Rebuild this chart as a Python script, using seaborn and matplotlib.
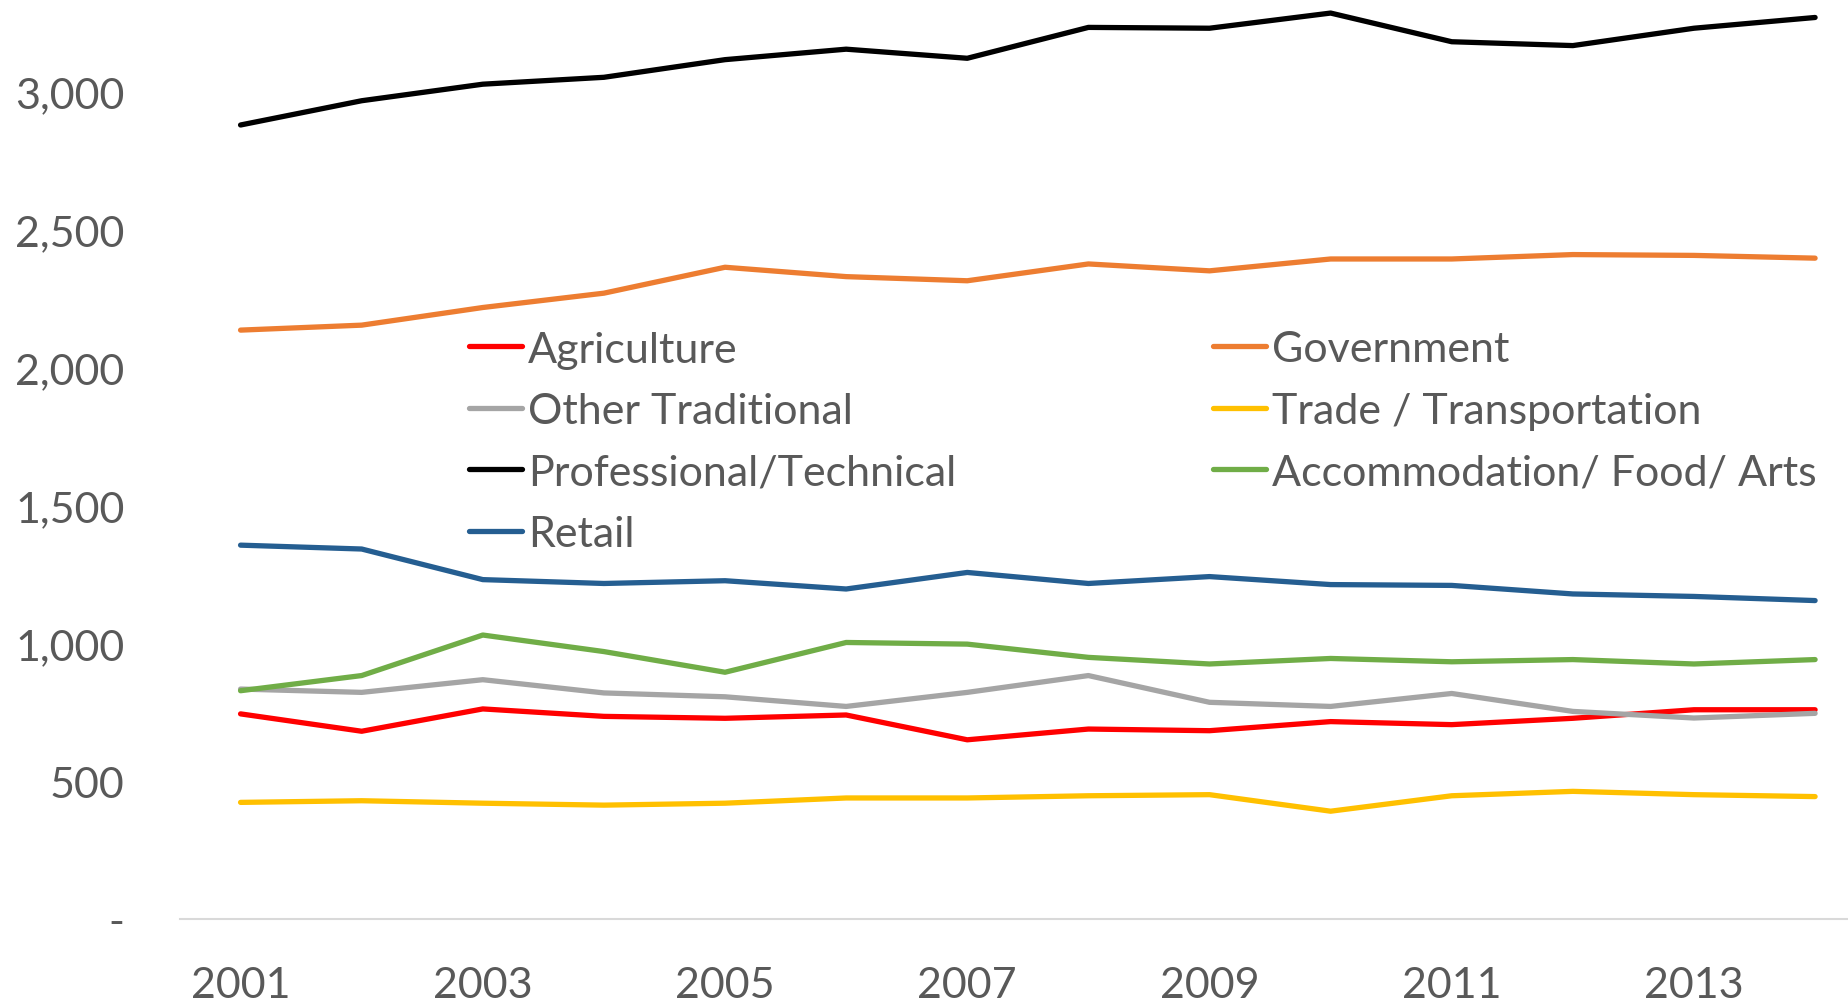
import matplotlib
matplotlib.use("Agg")
import matplotlib.pyplot as plt
import numpy as np
import pandas as pd
import seaborn as sns

years = list(range(2001, 2015))

agriculture = [744, 681, 762, 735, 728, 740, 650, 689, 683, 716, 705, 728, 759, 759]
government = [2136, 2154, 2218, 2270, 2364, 2330, 2315, 2376, 2351, 2394, 2394, 2410, 2407, 2397]
other_traditional = [834, 822, 868, 820, 806, 771, 822, 883, 786, 771, 818, 753, 729, 746]
trade_transport = [423, 429, 420, 413, 420, 439, 439, 447, 451, 391, 447, 463, 451, 444]
professional = [2880, 2968, 3028, 3053, 3117, 3155, 3122, 3234, 3231, 3286, 3182, 3168, 3231, 3270]
accommodation = [828, 883, 1030, 970, 895, 1003, 997, 949, 925, 945, 933, 941, 925, 941]
retail = [1356, 1342, 1231, 1217, 1227, 1197, 1257, 1217, 1242, 1213, 1210, 1179, 1170, 1155]

series_names = ["Agriculture", "Government", "Other Traditional", "Trade / Transportation",
                "Professional/Technical", "Accommodation/ Food/ Arts", "Retail"]
series_values = [agriculture, government, other_traditional, trade_transport,
                 professional, accommodation, retail]
series_colors = ["#FF0000", "#ED7D31", "#A5A5A5", "#FFC000", "#000000", "#70AD47", "#255E91"]

ytick_values = [0, 500, 1000, 1500, 2000, 2500, 3000]
ytick_labels = ["-", "500", "1,000", "1,500", "2,000", "2,500", "3,000"]
xtick_values = [2001, 2003, 2005, 2007, 2009, 2011, 2013]

# long-form table for seaborn
df = pd.DataFrame({
    "year": years * len(series_names),
    "value": np.concatenate(series_values),
    "series": np.repeat(series_names, len(years)),
})

sns.set_style("white")
plt.rcParams["font.family"] = ["Lato", "DejaVu Sans"]

W, H = 1849, 1003
fig = plt.figure(figsize=(W / 100, H / 100), dpi=100)
ax = fig.add_axes([180 / W, (H - 920) / H, 1 - 180 / W, 920 / H])

sns.lineplot(
    data=df, x="year", y="value", hue="series",
    hue_order=series_names, palette=series_colors,
    linewidth=3.8, ax=ax, legend=False,
)
for line in ax.get_lines():
    line.set_solid_capstyle("round")
    line.set_solid_joinstyle("round")

ax.set_xlim(2000.5, 2014.28)
ax.set_ylim(0, 3337)
ax.set_xticks(xtick_values)
ax.set_xticklabels([str(y) for y in xtick_values])
ax.set_yticks(ytick_values)
ax.set_yticklabels(ytick_labels)
ax.set_xlabel("")
ax.set_ylabel("")
ax.tick_params(axis="both", length=0, labelsize=31, labelcolor="#595959")
ax.tick_params(axis="y", pad=40)
ax.tick_params(axis="x", pad=34)
for side in ["top", "right", "left"]:
    ax.spines[side].set_visible(False)
ax.spines["bottom"].set_color("#D9D9D9")
ax.spines["bottom"].set_linewidth(1.5)

# legend in two columns, placed as two blocks
handles = [plt.Line2D([], [], color=c, linewidth=3.8, solid_capstyle="round") for c in series_colors]
left_idx = [0, 2, 4, 6]
right_idx = [1, 3, 5]
leg_kw = dict(frameon=False, fontsize=31, handlelength=1.23, handletextpad=0.14,
              labelspacing=0.545, borderpad=0, borderaxespad=0, loc="upper left",
              labelcolor="#595959")
fig.legend([handles[i] for i in left_idx], [series_names[i] for i in left_idx],
           bbox_to_anchor=(469 / W, 1 - 331.5 / H), **leg_kw)
fig.legend([handles[i] for i in right_idx], [series_names[i] for i in right_idx],
           bbox_to_anchor=(1213 / W, 1 - 331.5 / H), **leg_kw)

fig.savefig("out.png", dpi=100)
